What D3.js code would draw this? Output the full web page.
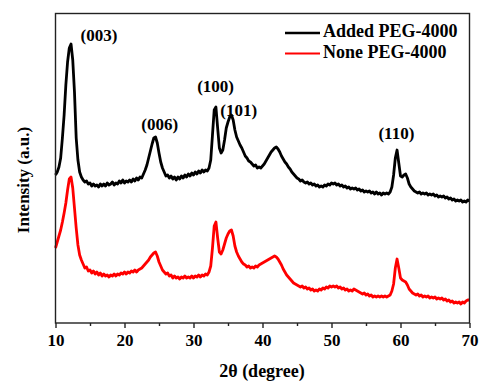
<!DOCTYPE html>
<html>
<head>
<meta charset="utf-8">
<script src="https://cdn.jsdelivr.net/npm/d3@7"></script>
<style>
  html, body { margin: 0; padding: 0; background: #fff; }
  svg { display: block; }
  text { font-family: "Liberation Serif", "Times New Roman", serif; font-weight: bold; fill: #000; }
</style>
</head>
<body>
<div id="chart"></div>
<script>
// XRD patterns, 2θ from 10 to 70 in 0.25° steps
const twoTheta = d3.range(241).map(i => 10 + i * 0.25);

const addedPEG = [
  148,151,156,165,185,208,238,261,275,
  279,263,231,185,163,151,146,143,
  141,142,139,140,137,139,137,138,
  136,139,137,139,137,140,138,139,
  141,138,140,139,142,140,143,140,
  142,141,143,141,144,142,145,143,
  146,145,149,153,158,165,172,179,
  185,186,180,170,161,155,151,147,
  148,145,147,144,146,143,146,144,
  147,145,148,146,149,147,150,148,
  151,149,152,150,153,151,153,152,
  155,163,188,213,216,195,175,170,
  173,183,195,201,206,208,203,193,
  186,182,178,175,171,167,165,162,
  161,159,157,158,155,156,155,157,
  159,162,165,168,171,173,175,176,
  174,171,167,164,161,159,156,154,
  151,149,147,145,144,142,143,141,
  140,141,139,140,138,139,137,138,
  136,137,136,138,137,139,138,140,
  139,140,138,139,137,138,136,137,
  135,136,134,135,134,135,133,134,
  132,133,131,132,131,132,130,131,
  129,131,129,130,128,130,129,130,
  129,131,136,148,165,173,160,147,
  146,148,149,145,139,136,134,132,
  131,130,131,129,130,129,130,128,
  129,128,129,127,128,126,127,126,
  127,125,126,124,125,123,124,122,
  123,122,123,121,122,121,123,122
];

const nonePEG = [
  75,81,87,93,101,110,120,133,144,
  146,135,115,95,78,68,63,59,
  55,56,52,53,50,52,49,51,
  48,50,47,49,47,48,46,48,
  47,49,47,49,48,50,49,51,
  49,51,50,52,51,53,51,53,
  54,55,57,59,61,63,66,68,
  70,71,67,61,57,53,51,49,
  50,47,48,45,47,45,46,44,
  46,45,47,45,46,45,47,45,
  47,46,48,46,48,47,49,48,
  51,57,75,97,101,85,71,69,
  73,79,85,89,92,93,87,77,
  71,67,64,61,59,58,56,57,
  55,56,55,57,56,58,59,60,
  61,62,63,64,65,66,67,66,
  64,61,58,54,51,48,46,44,
  42,40,39,38,37,36,37,35,
  36,34,35,33,34,32,33,32,
  34,33,35,34,36,35,37,36,
  37,36,37,35,36,34,35,33,
  34,32,33,32,34,33,32,31,
  30,29,30,28,29,27,28,26,
  27,26,27,26,27,26,27,26,
  27,28,32,39,55,64,55,45,
  43,42,41,38,34,32,30,29,
  28,29,27,28,26,27,26,27,
  25,26,25,26,24,25,24,25,
  23,24,22,23,21,22,20,21,
  20,21,19,21,20,22,23,23
];

const seriesNames = ['Added PEG-4000', 'None PEG-4000'];
const seriesColors = ['#000000', '#ff0000'];

const xTicks = [10, 20, 30, 40, 50, 60, 70];
const xMinorTicks = [15, 25, 35, 45, 55, 65];

// peak index labels, anchored at (2θ, intensity)
const peakLabels = ['(003)', '(006)', '(100)', '(101)', '(110)'];
const peakLabelAngles = [16.3, 25.1, 33.2, 36.55, 59.4];
const peakLabelLevels = [282, 193, 231, 207, 184];

const width = 480, height = 381;
const margin = { top: 13.5, right: 10.5, bottom: 58, left: 55.5 };

const svg = d3.select('#chart').append('svg')
  .attr('width', width)
  .attr('height', height);

const x = d3.scaleLinear().domain([10, 70]).range([margin.left, width - margin.right]);
const y = d3.scaleLinear().domain([0, 309.5]).range([height - margin.bottom, margin.top]);

const line = d3.line()
  .x((d, i) => x(twoTheta[i]))
  .y(d => y(d));

// curves (red first so black sits on top where close)
[nonePEG, addedPEG].forEach((vals, k) => {
  svg.append('path')
    .datum(vals)
    .attr('fill', 'none')
    .attr('stroke', k === 0 ? seriesColors[1] : seriesColors[0])
    .attr('stroke-width', 2.8)
    .attr('stroke-linejoin', 'round')
    .attr('d', line);
});

// frame
svg.append('rect')
  .attr('x', margin.left)
  .attr('y', margin.top)
  .attr('width', width - margin.left - margin.right)
  .attr('height', height - margin.top - margin.bottom)
  .attr('fill', 'none')
  .attr('stroke', '#222')
  .attr('stroke-width', 1.4);

// bottom axis
const xAxis = svg.append('g')
  .attr('transform', `translate(0,${height - margin.bottom})`)
  .call(d3.axisBottom(x).tickValues(xTicks).tickSize(5).tickPadding(6).tickFormat(d3.format('d')));
xAxis.select('.domain').remove();
xAxis.selectAll('line').attr('stroke', '#222').attr('stroke-width', 1.4);
xAxis.selectAll('text')
  .attr('font-family', '"Liberation Serif", serif')
  .attr('font-weight', 'bold')
  .attr('font-size', 17)
  .attr('fill', '#000');

const xMinor = svg.append('g')
  .attr('transform', `translate(0,${height - margin.bottom})`)
  .call(d3.axisBottom(x).tickValues(xMinorTicks).tickSize(3).tickFormat(''));
xMinor.select('.domain').remove();
xMinor.selectAll('line').attr('stroke', '#222').attr('stroke-width', 1.4);

// axis titles
svg.append('text')
  .attr('x', 262)
  .attr('y', 377)
  .attr('text-anchor', 'middle')
  .attr('font-size', 18)
  .text('2θ (degree)');

svg.append('text')
  .attr('transform', 'translate(29,180) rotate(-90)')
  .attr('text-anchor', 'middle')
  .attr('font-size', 17)
  .text('Intensity (a.u.)');

// peak labels
svg.append('g')
  .selectAll('text')
  .data(peakLabels)
  .join('text')
  .attr('x', (d, i) => x(peakLabelAngles[i]))
  .attr('y', (d, i) => y(peakLabelLevels[i]))
  .attr('text-anchor', 'middle')
  .attr('font-size', 17)
  .text(d => d);

// legend
const legend = svg.append('g').attr('transform', 'translate(285,33)');
seriesNames.forEach((name, i) => {
  const g = legend.append('g').attr('transform', `translate(0,${i * 20.5})`);
  g.append('line')
    .attr('x1', 0).attr('x2', 35)
    .attr('stroke', seriesColors[i])
    .attr('stroke-width', i === 0 ? 2.4 : 2);
  g.append('text')
    .attr('x', 38)
    .attr('y', 4)
    .attr('font-size', 18)
    .text(name);
});
</script>
</body>
</html>
